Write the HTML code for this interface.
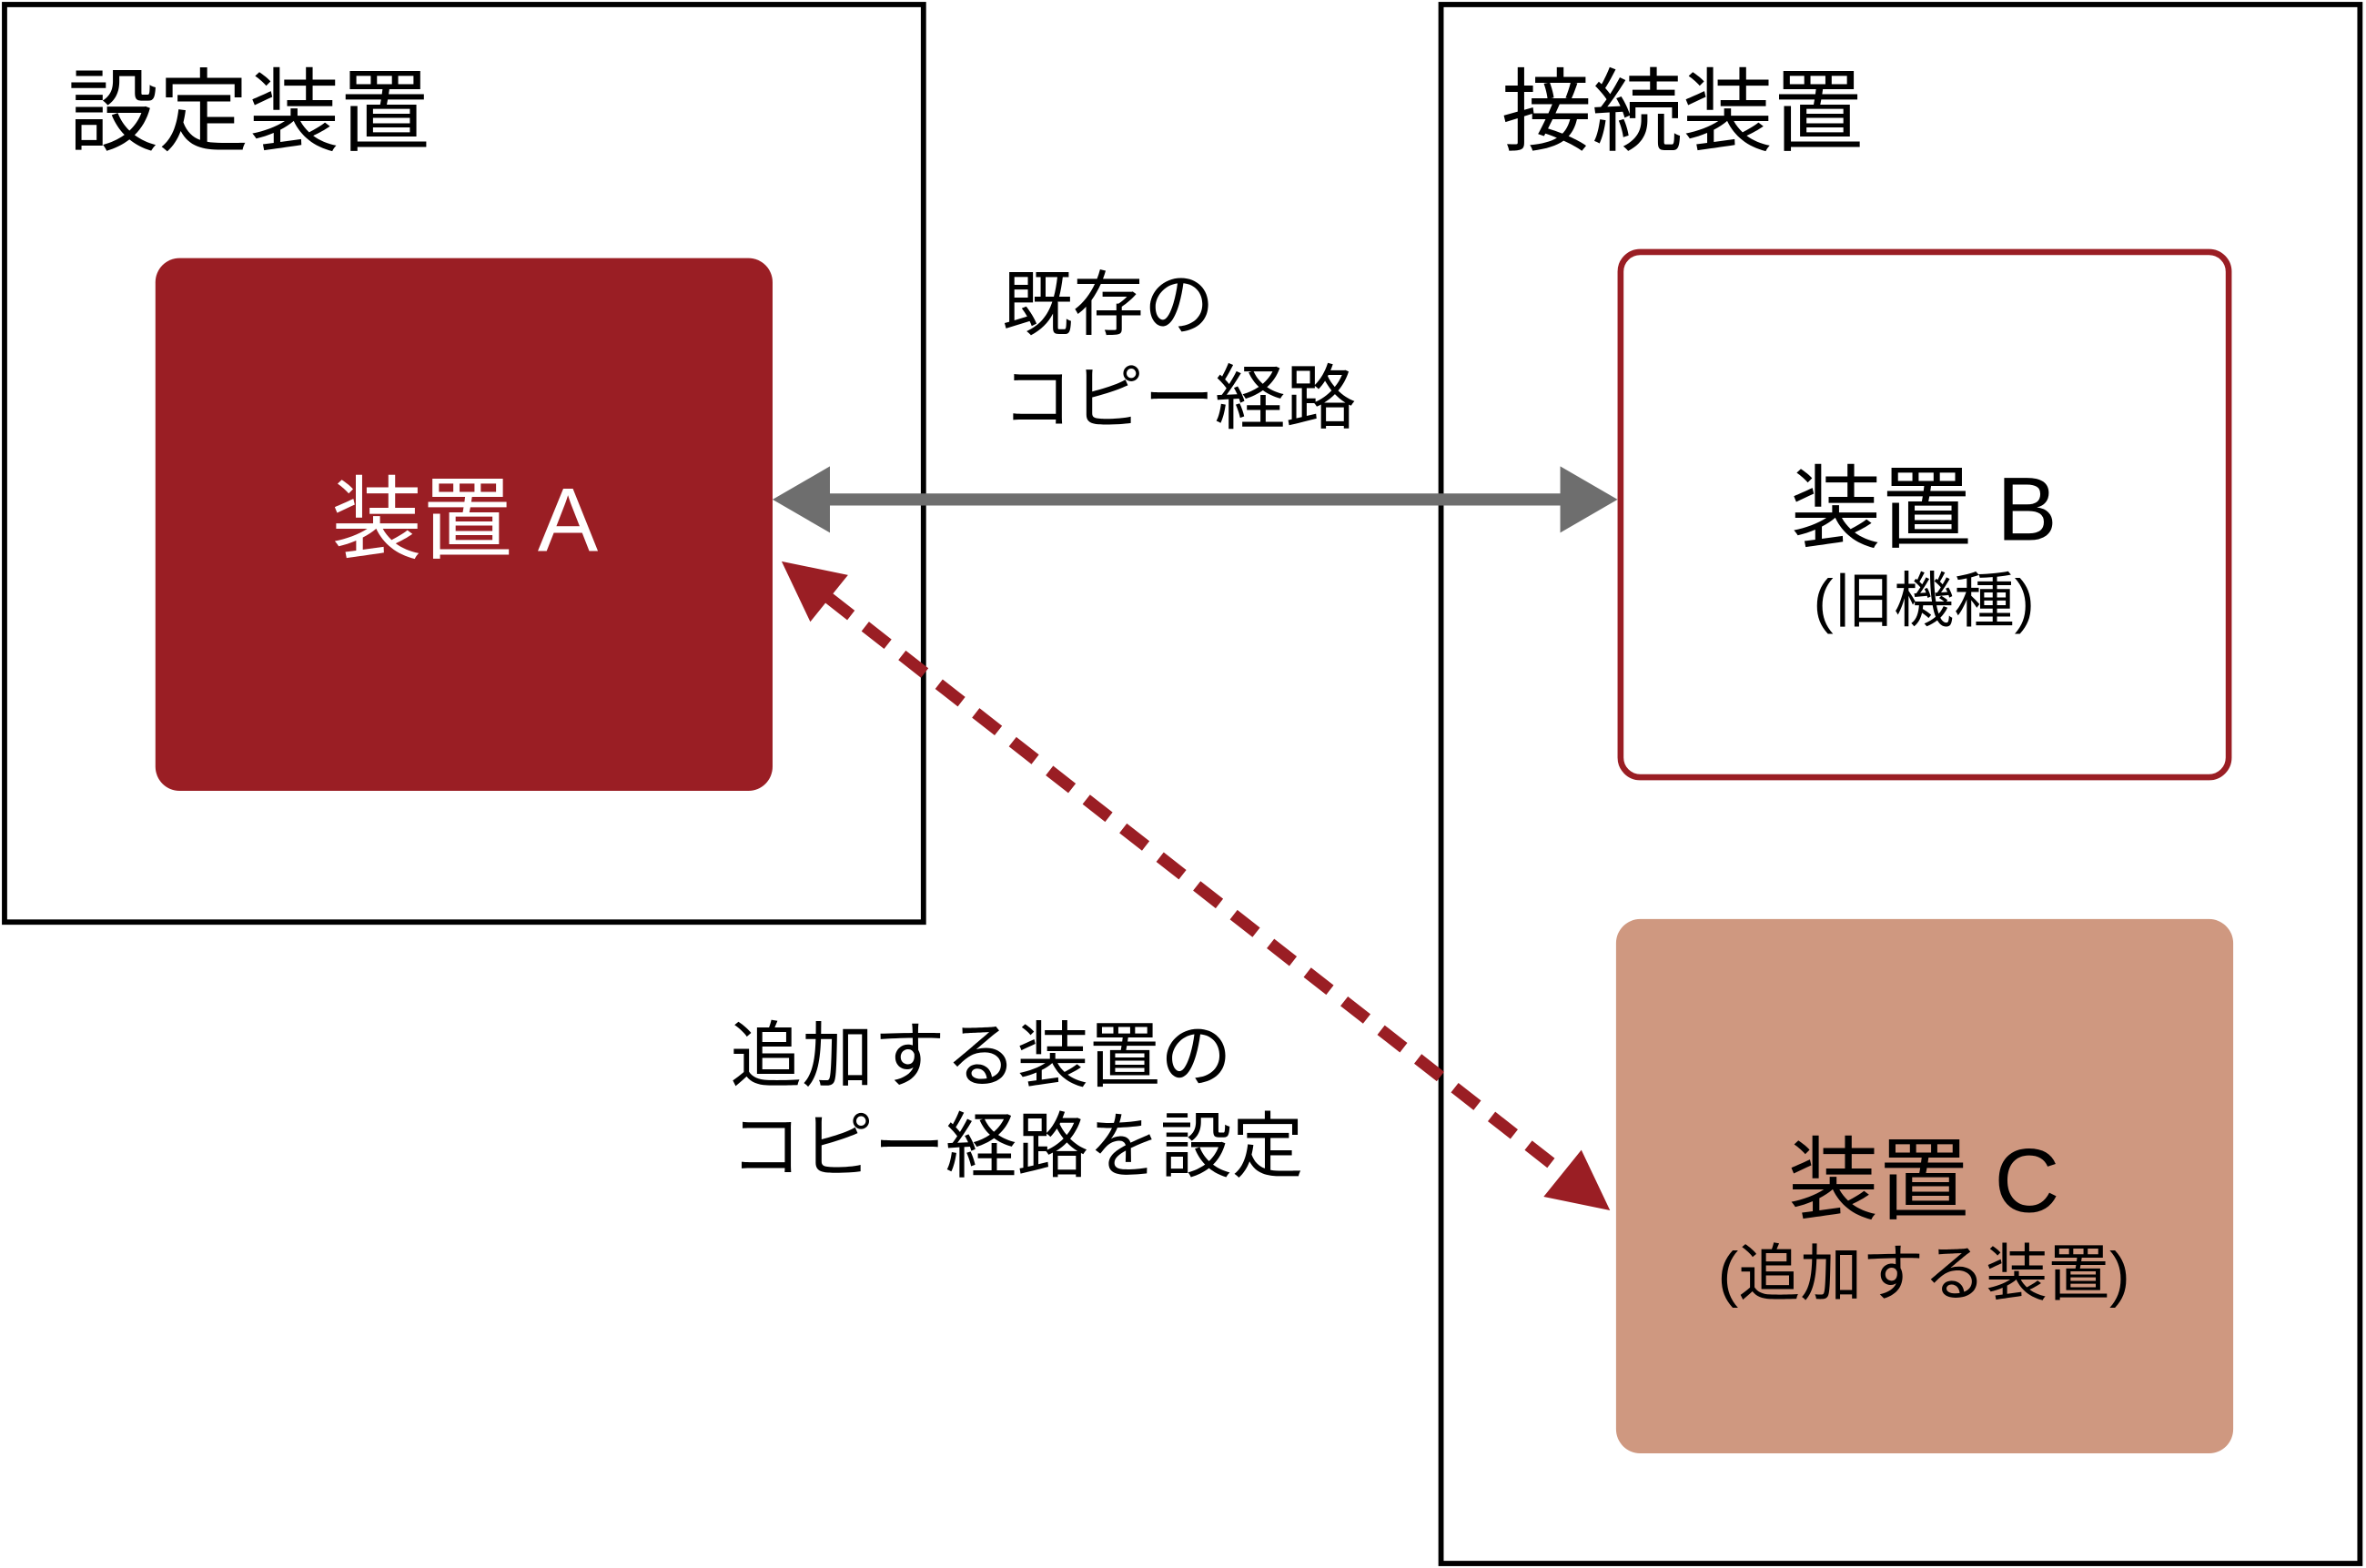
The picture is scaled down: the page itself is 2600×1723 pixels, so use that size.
<!DOCTYPE html>
<html><head><meta charset="utf-8"><style>html,body{margin:0;padding:0;background:#fff}svg{display:block}text{font-family:"Liberation Sans","Noto Sans CJK JP",sans-serif}</style></head><body>
<svg width="2600" height="1723" viewBox="0 0 1568 1039" preserveAspectRatio="none" xmlns="http://www.w3.org/2000/svg">
<rect x="0" y="0" width="1568" height="1039" fill="#fff"/>
<rect x="3" y="3" width="609" height="608" fill="none" stroke="#000" stroke-width="3.5"/>
<rect x="955" y="3" width="609" height="1033" fill="none" stroke="#000" stroke-width="3.5"/>
<rect x="103" y="171" width="409" height="353" rx="16" fill="#9a1e24"/>
<rect x="1074" y="167" width="403" height="348" rx="13" fill="#fff" stroke="#9a1e24" stroke-width="4"/>
<rect x="1071" y="609" width="409" height="354" rx="16" fill="#cf9880"/>
<line x1="545" y1="331" x2="1040" y2="331" stroke="#6e6e6e" stroke-width="8"/>
<polygon points="512,331 550,309 550,353" fill="#6e6e6e"/>
<polygon points="1072,331 1034,309 1034,353" fill="#6e6e6e"/>
<line x1="549" y1="396" x2="1036" y2="777" stroke="#9a1e24" stroke-width="8" stroke-dasharray="19,12"/>
<polygon points="518,372 537,412 562,381" fill="#9a1e24"/>
<polygon points="1067,802 1023,793 1048,762" fill="#9a1e24"/>
<text x="45" y="95" font-size="60" fill="#000">設定装置</text>
<text x="995" y="95" font-size="60" fill="#000">接続装置</text>
<text x="308" y="365" font-size="60" fill="#fff" text-anchor="middle">装置 A</text>
<text x="664" y="218" font-size="47" fill="#000">既存の</text>
<text x="664" y="280" font-size="47" fill="#000">コピー経路</text>
<text x="1275" y="358" font-size="60" fill="#000" text-anchor="middle">装置 B</text>
<text x="1275" y="412" font-size="40" fill="#000" text-anchor="middle">(旧機種)</text>
<text x="484" y="716" font-size="47.5" fill="#000">追加する装置の</text>
<text x="484" y="776" font-size="47.5" fill="#000">コピー経路を設定</text>
<text x="1275" y="803" font-size="60" fill="#000" text-anchor="middle">装置 C</text>
<text x="1275" y="858" font-size="41" fill="#000" text-anchor="middle">(追加する装置)</text>
</svg>
</body></html>
